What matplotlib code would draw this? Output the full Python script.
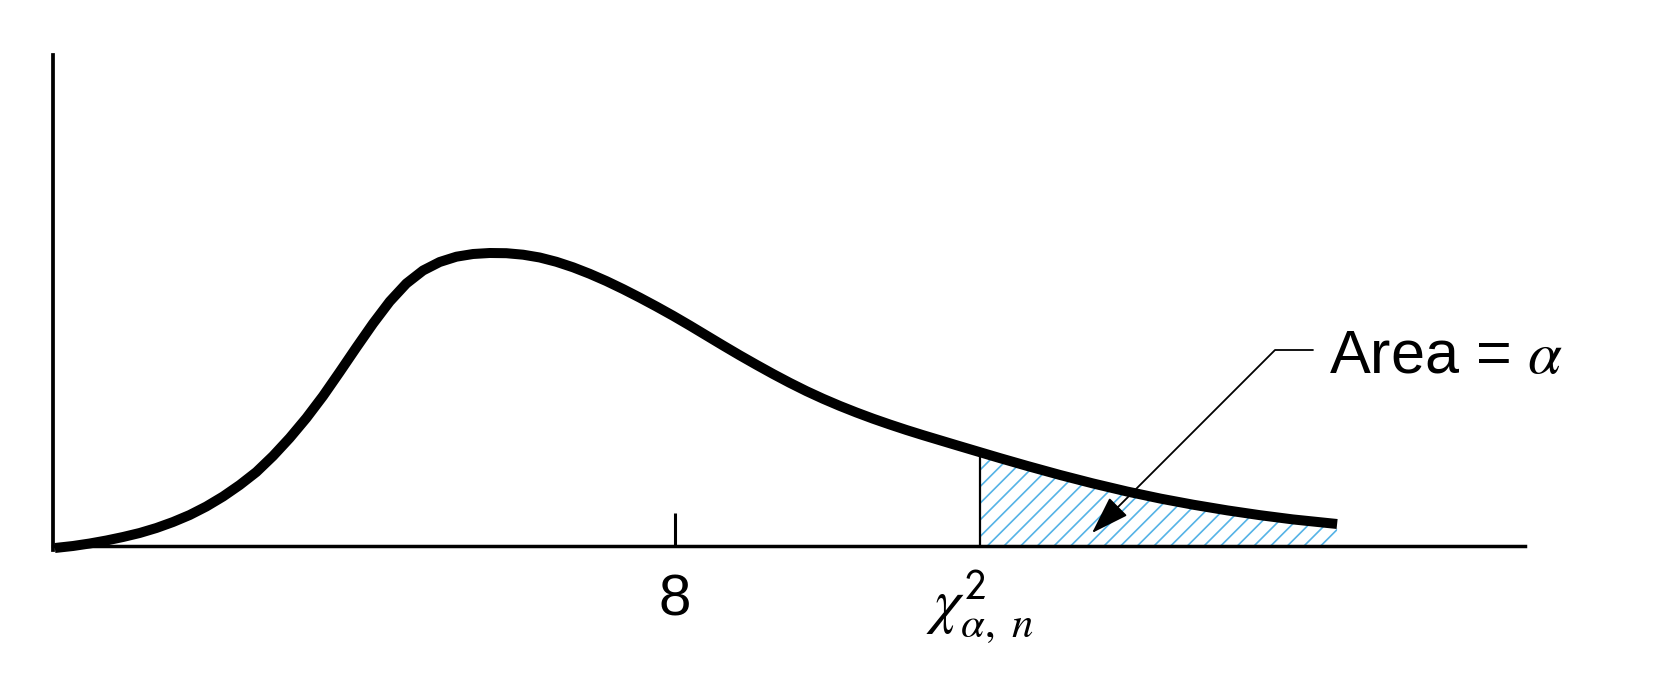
import numpy as np
import matplotlib
matplotlib.use('Agg')
import matplotlib.pyplot as plt

# 곡선 위의 점들 (그림에서 읽은 값, 눈금 8 기준 단위)
curve_x = [0.03, 0.263, 0.478, 0.692, 0.906, 1.120, 1.335, 1.549, 1.763, 1.977,
           2.192, 2.406, 2.620, 2.834, 3.048, 3.263, 3.477, 3.691, 3.905, 4.120,
           4.334, 4.548, 4.762, 4.976, 5.191, 5.405, 5.619, 5.833, 6.048, 6.262,
           6.476, 6.690, 6.904, 7.119, 7.333, 7.547, 7.761, 7.976, 8.190, 8.404,
           8.618, 8.832, 9.047, 9.261, 9.475, 9.689, 9.904, 10.118, 10.332, 10.546,
           10.761, 10.975, 11.189, 11.403, 11.617, 11.92, 12.18, 12.53, 12.95,
           13.37, 13.81, 14.24, 14.66, 15.10, 15.52, 15.94, 16.51]
curve_y = [-0.02, 0.000, 0.025, 0.055, 0.090, 0.130, 0.180, 0.240, 0.310, 0.395,
           0.495, 0.610, 0.740, 0.900, 1.080, 1.280, 1.500, 1.740, 1.985, 2.225,
           2.445, 2.625, 2.755, 2.840, 2.893, 2.920, 2.930, 2.928, 2.913, 2.885,
           2.842, 2.787, 2.722, 2.649, 2.569, 2.484, 2.395, 2.302, 2.205, 2.105,
           2.005, 1.907, 1.812, 1.720, 1.632, 1.549, 1.472, 1.401, 1.335, 1.273,
           1.215, 1.160, 1.108, 1.058, 1.008, 0.938, 0.878, 0.800, 0.710,
           0.626, 0.545, 0.474, 0.413, 0.356, 0.308, 0.266, 0.220]
crit_x = 11.92
tick_values = [8]
tick_labels = ['8']
crit_label = r'$\chi^{\mathsf{2}}_{\alpha,\ n}$'
area_label = r'Area = $\alpha$'

plt.rcParams['font.family'] = ['Liberation Sans', 'DejaVu Sans']
plt.rcParams['mathtext.fontset'] = 'stix'
plt.rcParams['hatch.linewidth'] = 1.2

x = np.array(curve_x)
y = np.array(curve_y)

fig = plt.figure(figsize=(16.6, 6.88), dpi=100)
ax = fig.add_axes([0, 0, 1, 1])
ax.set_xlim(-0.675, 20.66)
ax.set_ylim(-1.42, 5.46)

# 축 (왼쪽, 아래)
for side in ['top', 'right']:
    ax.spines[side].set_visible(False)
ax.spines['left'].set_position(('data', 0))
ax.spines['bottom'].set_position(('data', 0))
ax.spines['left'].set_bounds(-0.04, 4.91)
ax.spines['bottom'].set_bounds(0, 18.93)
ax.spines['left'].set_linewidth(2.7)
ax.spines['bottom'].set_linewidth(2.5)
ax.set_yticks([])
ax.set_xticks(tick_values)
ax.set_xticklabels(tick_labels, fontsize=42)
ax.tick_params(axis='x', direction='in', length=24, width=2.2, pad=20)
ax.patch.set_visible(False)

# 꼬리 영역 빗금
mask = x >= crit_x
ax.fill_between(x[mask], 0, y[mask], facecolor='none', edgecolor='#55b3e6',
                hatch='//', linewidth=0)
crit_y = y[list(curve_x).index(crit_x)]
ax.vlines(crit_x, 0, crit_y, color='black', linewidth=1.6)
ax.text(crit_x, -0.23, crit_label, fontsize=44, ha='center', va='top')

# 밀도 곡선
ax.plot(x, y, color='black', linewidth=7.2, solid_capstyle='butt',
        solid_joinstyle='round')

# 설명 화살표
ax.annotate('', xy=(13.36, 0.13), xytext=(16.2, 1.96),
            arrowprops=dict(arrowstyle='-|>,head_length=1.2,head_width=0.4',
                            mutation_scale=20, color='black', linewidth=1.3,
                            connectionstyle='angle,angleA=0,angleB=45,rad=0',
                            shrinkA=0, shrinkB=0))
ax.text(16.41, 1.73, area_label, fontsize=44, ha='left', va='baseline')

fig.savefig('out.png', dpi=100)
